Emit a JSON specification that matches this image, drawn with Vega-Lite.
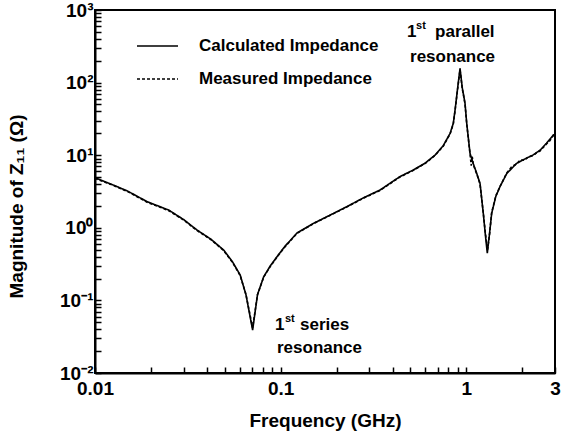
{
  "$schema": "https://vega.github.io/schema/vega-lite/v6.json",
  "width": 460,
  "height": 363,
  "autosize": {"type": "none"},
  "padding": {"left": 95, "top": 10, "right": 13, "bottom": 61},
  "background": "white",
  "config": {
    "font": "Liberation Sans",
    "view": {"stroke": "black", "strokeWidth": 2},
    "axis": {
      "grid": false,
      "domainColor": "black",
      "domainWidth": 2,
      "labelFont": "Liberation Sans",
      "labelFontWeight": "bold",
      "labelFontSize": 19,
      "labelColor": "black",
      "titleFont": "Liberation Sans",
      "titleFontWeight": "bold",
      "titleFontSize": 19,
      "titleColor": "black"
    }
  },
  "datasets": {
    "curves": [
      {"f": 0.01, "z": 4.9, "series": "Calculated Impedance"},
      {"f": 0.0125, "z": 3.9, "series": "Calculated Impedance"},
      {"f": 0.015, "z": 3.2, "series": "Calculated Impedance"},
      {"f": 0.0191, "z": 2.29, "series": "Calculated Impedance"},
      {"f": 0.025, "z": 1.75, "series": "Calculated Impedance"},
      {"f": 0.03, "z": 1.3, "series": "Calculated Impedance"},
      {"f": 0.0354, "z": 0.933, "series": "Calculated Impedance"},
      {"f": 0.042, "z": 0.7, "series": "Calculated Impedance"},
      {"f": 0.0493, "z": 0.494, "series": "Calculated Impedance"},
      {"f": 0.055, "z": 0.34, "series": "Calculated Impedance"},
      {"f": 0.0605, "z": 0.224, "series": "Calculated Impedance"},
      {"f": 0.065, "z": 0.12, "series": "Calculated Impedance"},
      {"f": 0.0706, "z": 0.039, "series": "Calculated Impedance"},
      {"f": 0.075, "z": 0.12, "series": "Calculated Impedance"},
      {"f": 0.081, "z": 0.212, "series": "Calculated Impedance"},
      {"f": 0.088, "z": 0.3, "series": "Calculated Impedance"},
      {"f": 0.0955, "z": 0.4, "series": "Calculated Impedance"},
      {"f": 0.105, "z": 0.55, "series": "Calculated Impedance"},
      {"f": 0.1225, "z": 0.85, "series": "Calculated Impedance"},
      {"f": 0.15, "z": 1.15, "series": "Calculated Impedance"},
      {"f": 0.185, "z": 1.5, "series": "Calculated Impedance"},
      {"f": 0.2266, "z": 1.95, "series": "Calculated Impedance"},
      {"f": 0.28, "z": 2.6, "series": "Calculated Impedance"},
      {"f": 0.343, "z": 3.32, "series": "Calculated Impedance"},
      {"f": 0.438, "z": 5.06, "series": "Calculated Impedance"},
      {"f": 0.518, "z": 6.26, "series": "Calculated Impedance"},
      {"f": 0.6, "z": 7.8, "series": "Calculated Impedance"},
      {"f": 0.68, "z": 10.1, "series": "Calculated Impedance"},
      {"f": 0.75, "z": 13.5, "series": "Calculated Impedance"},
      {"f": 0.817, "z": 20, "series": "Calculated Impedance"},
      {"f": 0.85, "z": 27.5, "series": "Calculated Impedance"},
      {"f": 0.869, "z": 42, "series": "Calculated Impedance"},
      {"f": 0.895, "z": 80, "series": "Calculated Impedance"},
      {"f": 0.924, "z": 157, "series": "Calculated Impedance"},
      {"f": 0.95, "z": 85, "series": "Calculated Impedance"},
      {"f": 0.983, "z": 52, "series": "Calculated Impedance"},
      {"f": 1.004, "z": 27.5, "series": "Calculated Impedance"},
      {"f": 1.046, "z": 10.6, "series": "Calculated Impedance"},
      {"f": 1.09, "z": 7.6, "series": "Calculated Impedance"},
      {"f": 1.14, "z": 5.5, "series": "Calculated Impedance"},
      {"f": 1.184, "z": 4.1, "series": "Calculated Impedance"},
      {"f": 1.233, "z": 1.58, "series": "Calculated Impedance"},
      {"f": 1.265, "z": 0.8, "series": "Calculated Impedance"},
      {"f": 1.296, "z": 0.446, "series": "Calculated Impedance"},
      {"f": 1.33, "z": 0.8, "series": "Calculated Impedance"},
      {"f": 1.368, "z": 1.58, "series": "Calculated Impedance"},
      {"f": 1.44, "z": 2.7, "series": "Calculated Impedance"},
      {"f": 1.516, "z": 3.68, "series": "Calculated Impedance"},
      {"f": 1.65, "z": 5.6, "series": "Calculated Impedance"},
      {"f": 1.866, "z": 7.73, "series": "Calculated Impedance"},
      {"f": 2.05, "z": 8.8, "series": "Calculated Impedance"},
      {"f": 2.29, "z": 10.1, "series": "Calculated Impedance"},
      {"f": 2.5, "z": 11.8, "series": "Calculated Impedance"},
      {"f": 2.7, "z": 14.6, "series": "Calculated Impedance"},
      {"f": 2.94, "z": 19.0, "series": "Calculated Impedance"},
      {"f": 3.0, "z": 19.5, "series": "Calculated Impedance"},
      {"f": 0.01, "z": 4.8, "series": "Measured Impedance"},
      {"f": 0.0125, "z": 3.85, "series": "Measured Impedance"},
      {"f": 0.015, "z": 3.15, "series": "Measured Impedance"},
      {"f": 0.0191, "z": 2.25, "series": "Measured Impedance"},
      {"f": 0.025, "z": 1.72, "series": "Measured Impedance"},
      {"f": 0.03, "z": 1.28, "series": "Measured Impedance"},
      {"f": 0.0354, "z": 0.92, "series": "Measured Impedance"},
      {"f": 0.042, "z": 0.69, "series": "Measured Impedance"},
      {"f": 0.0493, "z": 0.485, "series": "Measured Impedance"},
      {"f": 0.055, "z": 0.335, "series": "Measured Impedance"},
      {"f": 0.0605, "z": 0.22, "series": "Measured Impedance"},
      {"f": 0.065, "z": 0.12, "series": "Measured Impedance"},
      {"f": 0.0706, "z": 0.042, "series": "Measured Impedance"},
      {"f": 0.075, "z": 0.12, "series": "Measured Impedance"},
      {"f": 0.081, "z": 0.21, "series": "Measured Impedance"},
      {"f": 0.088, "z": 0.295, "series": "Measured Impedance"},
      {"f": 0.0955, "z": 0.395, "series": "Measured Impedance"},
      {"f": 0.105, "z": 0.54, "series": "Measured Impedance"},
      {"f": 0.1225, "z": 0.84, "series": "Measured Impedance"},
      {"f": 0.15, "z": 1.14, "series": "Measured Impedance"},
      {"f": 0.185, "z": 1.49, "series": "Measured Impedance"},
      {"f": 0.2266, "z": 1.93, "series": "Measured Impedance"},
      {"f": 0.28, "z": 2.57, "series": "Measured Impedance"},
      {"f": 0.343, "z": 3.28, "series": "Measured Impedance"},
      {"f": 0.438, "z": 5.0, "series": "Measured Impedance"},
      {"f": 0.518, "z": 6.2, "series": "Measured Impedance"},
      {"f": 0.6, "z": 7.7, "series": "Measured Impedance"},
      {"f": 0.68, "z": 10.0, "series": "Measured Impedance"},
      {"f": 0.75, "z": 13.3, "series": "Measured Impedance"},
      {"f": 0.817, "z": 19.7, "series": "Measured Impedance"},
      {"f": 0.85, "z": 27, "series": "Measured Impedance"},
      {"f": 0.869, "z": 41, "series": "Measured Impedance"},
      {"f": 0.895, "z": 78, "series": "Measured Impedance"},
      {"f": 0.924, "z": 150, "series": "Measured Impedance"},
      {"f": 0.95, "z": 83, "series": "Measured Impedance"},
      {"f": 0.983, "z": 51, "series": "Measured Impedance"},
      {"f": 1.004, "z": 27, "series": "Measured Impedance"},
      {"f": 1.046, "z": 10.4, "series": "Measured Impedance"},
      {"f": 1.062, "z": 7.2, "series": "Measured Impedance"},
      {"f": 1.075, "z": 9.6, "series": "Measured Impedance"},
      {"f": 1.09, "z": 7.4, "series": "Measured Impedance"},
      {"f": 1.14, "z": 5.4, "series": "Measured Impedance"},
      {"f": 1.184, "z": 4.0, "series": "Measured Impedance"},
      {"f": 1.233, "z": 1.6, "series": "Measured Impedance"},
      {"f": 1.265, "z": 0.85, "series": "Measured Impedance"},
      {"f": 1.3, "z": 0.5, "series": "Measured Impedance"},
      {"f": 1.335, "z": 0.85, "series": "Measured Impedance"},
      {"f": 1.368, "z": 1.62, "series": "Measured Impedance"},
      {"f": 1.44, "z": 2.75, "series": "Measured Impedance"},
      {"f": 1.516, "z": 3.7, "series": "Measured Impedance"},
      {"f": 1.65, "z": 5.7, "series": "Measured Impedance"},
      {"f": 1.75, "z": 6.9, "series": "Measured Impedance"},
      {"f": 1.866, "z": 7.6, "series": "Measured Impedance"},
      {"f": 1.95, "z": 8.6, "series": "Measured Impedance"},
      {"f": 2.05, "z": 8.5, "series": "Measured Impedance"},
      {"f": 2.15, "z": 9.4, "series": "Measured Impedance"},
      {"f": 2.29, "z": 9.9, "series": "Measured Impedance"},
      {"f": 2.4, "z": 10.9, "series": "Measured Impedance"},
      {"f": 2.5, "z": 11.5, "series": "Measured Impedance"},
      {"f": 2.6, "z": 12.9, "series": "Measured Impedance"},
      {"f": 2.7, "z": 14.3, "series": "Measured Impedance"},
      {"f": 2.8, "z": 15.6, "series": "Measured Impedance"},
      {"f": 2.94, "z": 18.7, "series": "Measured Impedance"},
      {"f": 3.0, "z": 19.2, "series": "Measured Impedance"}
    ],
    "notes": [
      {"f": 0.479, "z": 425, "t": "1"},
      {"f": 0.678, "z": 425, "t": "parallel"},
      {"f": 0.497, "z": 192, "t": "resonance"},
      {"f": 0.0932, "z": 0.0391, "t": "1"},
      {"f": 0.127, "z": 0.0391, "t": "series"},
      {"f": 0.0955, "z": 0.01886, "t": "resonance"}
    ],
    "sups": [
      {"f": 0.5355, "z": 547, "t": "st"},
      {"f": 0.1054, "z": 0.0504, "t": "st"}
    ]
  },
  "encoding": {
    "x": {
      "field": "f", "type": "quantitative",
      "scale": {"type": "log", "domain": [0.01, 3], "nice": false, "zero": false},
      "axis": {
        "title": "Frequency (GHz)",
        "values": [0.01,0.02,0.03,0.04,0.05,0.06,0.07,0.08,0.09,0.1,0.2,0.3,0.4,0.5,0.6,0.7,0.8,0.9,1,2,3],
        "labelExpr": "datum.value == 0.01 ? '0.01' : datum.value == 0.1 ? '0.1' : datum.value == 1 ? '1' : datum.value == 3 ? '3' : ''",
        "labelOverlap": false,
        "labelAlign": "center",
        "ticks": true,
        "tickSize": -6,
        "tickWidth": 1.5,
        "tickColor": "black",
        "labelPadding": 12,
        "titleBaseline": "middle",
        "titleY": 47
      }
    },
    "y": {
      "field": "z", "type": "quantitative",
      "scale": {"type": "log", "domain": [0.01, 1000], "nice": false, "zero": false},
      "axis": {
        "title": "Magnitude of Z₁₁ (Ω)",
        "values": [0.01,0.02,0.03,0.04,0.05,0.06,0.07,0.08,0.09,0.1,0.2,0.3,0.4,0.5,0.6,0.7,0.8,0.9,1,2,3,4,5,6,7,8,9,10,20,30,40,50,60,70,80,90,100,200,300,400,500,600,700,800,900,1000],
        "labelExpr": "datum.value == 1000 ? '10³' : datum.value == 100 ? '10²' : datum.value == 10 ? '10¹' : datum.value == 1 ? '10⁰' : datum.value == 0.1 ? '10⁻¹' : datum.value == 0.01 ? '10⁻²' : ''",
        "labelOverlap": false,
        "labelBaseline": "middle",
        "labelAlign": "right",
        "ticks": true,
        "tickSize": -6,
        "tickWidth": 1.5,
        "tickColor": "black",
        "labelPadding": 8,
        "titleBaseline": "middle",
        "titleX": -79,
        "titleY": 196
      }
    }
  },
  "layer": [
    {
      "data": {"name": "curves"},
      "mark": {"type": "line", "color": "black", "strokeWidth": 1.6, "clip": true},
      "encoding": {
        "strokeDash": {
          "field": "series", "type": "nominal",
          "scale": {"domain": ["Calculated Impedance", "Measured Impedance"], "range": [[1, 0], [3, 2]]},
          "legend": {
            "title": null,
            "orient": "none",
            "legendX": 41,
            "legendY": 26,
            "padding": 0,
            "symbolType": "stroke",
            "symbolSize": 1681,
            "symbolStrokeWidth": 1.5,
            "symbolStrokeColor": "black",
            "labelFont": "Liberation Sans",
            "labelFontWeight": "bold",
            "labelFontSize": 17,
            "labelColor": "black",
            "labelLimit": 400,
            "labelOffset": 20,
            "clipHeight": 20,
            "rowPadding": 13
          }
        }
      }
    },
    {
      "data": {"name": "notes"},
      "mark": {"type": "text", "align": "left", "baseline": "alphabetic", "fontSize": 17, "fontWeight": "bold", "font": "Liberation Sans", "color": "black"},
      "encoding": {
        "text": {"field": "t"}
      }
    },
    {
      "data": {"name": "sups"},
      "mark": {"type": "text", "align": "left", "baseline": "alphabetic", "fontSize": 11, "fontWeight": "bold", "font": "Liberation Sans", "color": "black"},
      "encoding": {
        "text": {"field": "t"}
      }
    }
  ]
}
